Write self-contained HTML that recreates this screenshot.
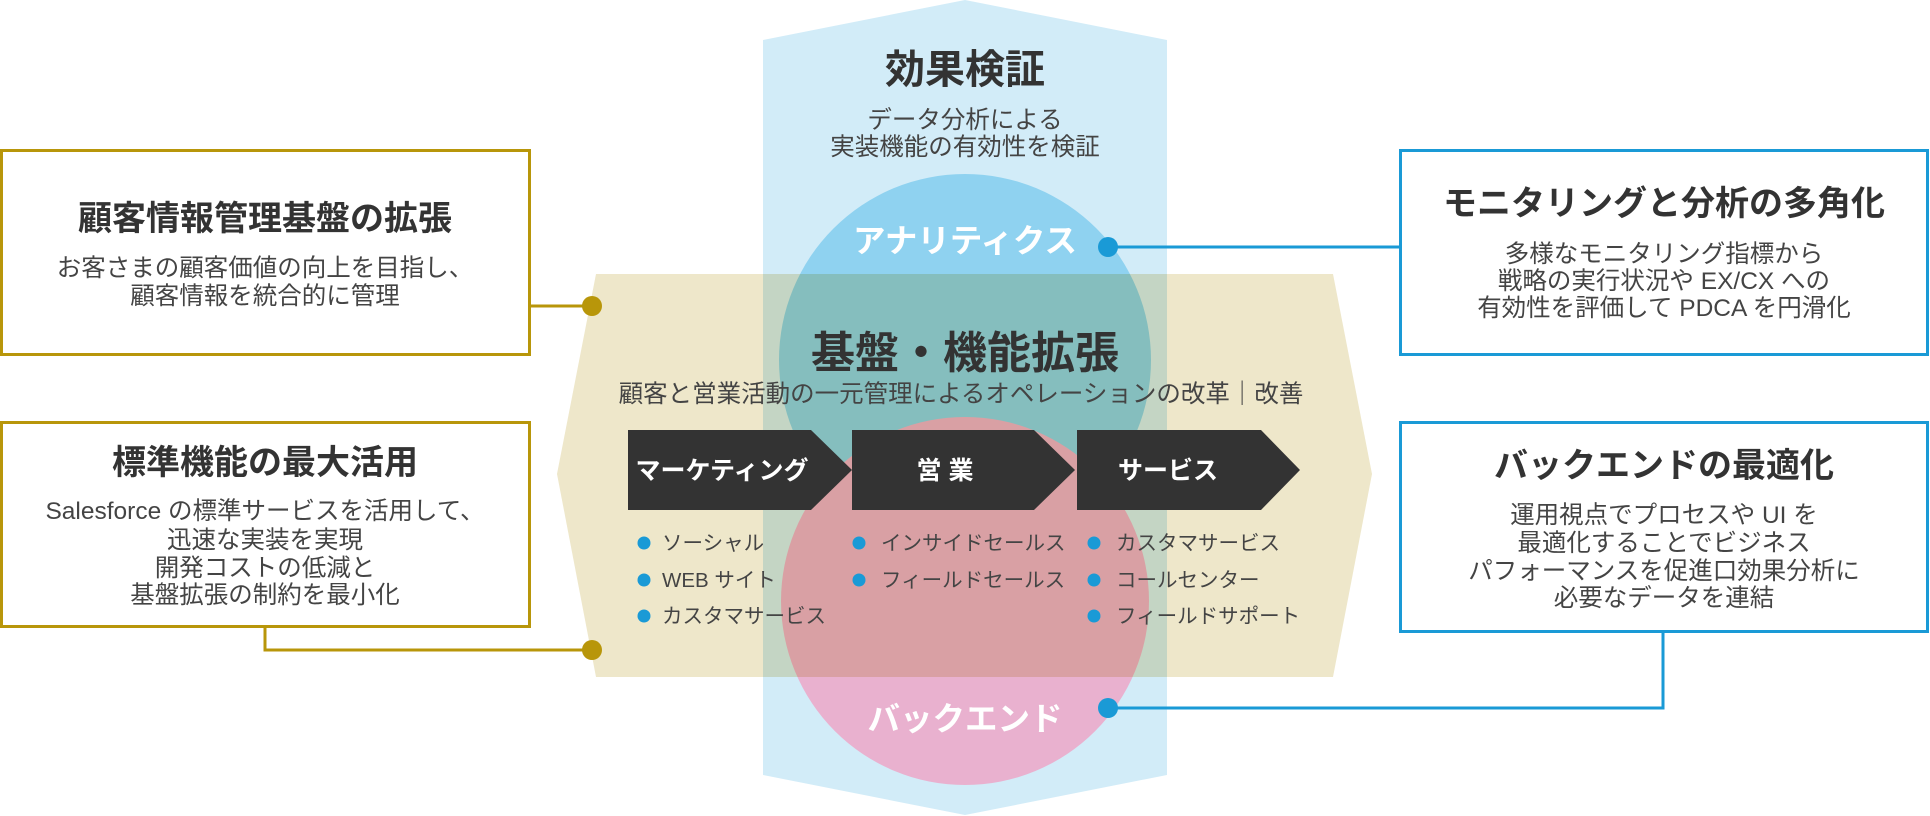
<!DOCTYPE html>
<html><head><meta charset="utf-8"><style>
html,body{margin:0;padding:0;background:#fff;}
svg{display:block;}
text{font-family:"Liberation Sans","Noto Sans CJK JP",sans-serif;fill:#333;}
.t{font-weight:bold;font-size:34px;}
.s{font-size:24.5px;fill:#444;}
.w{fill:#fff;font-weight:bold;font-size:32.5px;}
.c{fill:#fff;font-weight:bold;font-size:25px;}
.b{font-size:20.5px;fill:#444;}
</style></head><body>
<svg width="1930" height="816" viewBox="0 0 1930 816" xmlns="http://www.w3.org/2000/svg">
<polygon points="763,40 965,0 1167,40 1167,775 965,815 763,775" fill="#d2ecf8"/>
<circle cx="965" cy="360" r="186" fill="#8fd2f0"/>
<circle cx="965" cy="601" r="184" fill="#e9b1cf"/>
<polygon points="596,274 1333,274 1372,474 1333,677 596,677 557,474" fill="#eee7ca" style="mix-blend-mode:multiply"/>

<g stroke="#b8960a" stroke-width="3" fill="none">
<rect x="1.5" y="150.5" width="528" height="204"/>
<rect x="1.5" y="422.5" width="528" height="204"/>
<polyline points="530,306 592,306"/>
<polyline points="265,627 265,650 592,650"/>
</g>
<circle cx="592" cy="306" r="10" fill="#b8960a"/>
<circle cx="592" cy="650" r="10" fill="#b8960a"/>

<g stroke="#1a9ad6" stroke-width="3" fill="none">
<rect x="1400.5" y="150.5" width="527" height="204"/>
<rect x="1400.5" y="422.5" width="527" height="209"/>
<polyline points="1108,247 1400,247"/>
<polyline points="1108,708 1663,708 1663,632"/>
</g>
<circle cx="1108" cy="247" r="10" fill="#1a9ad6"/>
<circle cx="1108" cy="708" r="10" fill="#1a9ad6"/>

<g text-anchor="middle">
<text class="t" x="265" y="230">顧客情報管理基盤の拡張</text>
<text class="s" x="265" y="276">お客さまの顧客価値の向上を目指し、</text>
<text class="s" x="265" y="304">顧客情報を統合的に管理</text>

<text class="t" x="265" y="474">標準機能の最大活用</text>
<text class="s" x="265" y="519">Salesforce の標準サービスを活用して、</text>
<text class="s" x="265" y="548">迅速な実装を実現</text>
<text class="s" x="265" y="576">開発コストの低減と</text>
<text class="s" x="265" y="603">基盤拡張の制約を最小化</text>

<text class="t" x="1664" y="215">モニタリングと分析の多角化</text>
<text class="s" x="1664" y="262">多様なモニタリング指標から</text>
<text class="s" x="1664" y="289">戦略の実行状況や EX/CX への</text>
<text class="s" x="1664" y="316">有効性を評価して PDCA を円滑化</text>

<text class="t" x="1664" y="477">バックエンドの最適化</text>
<text class="s" x="1664" y="523">運用視点でプロセスや UI を</text>
<text class="s" x="1664" y="551">最適化することでビジネス</text>
<text class="s" x="1664" y="579">パフォーマンスを促進口効果分析に</text>
<text class="s" x="1664" y="606">必要なデータを連結</text>

<text class="t" x="965" y="83" style="font-size:40px">効果検証</text>
<text class="s" x="965" y="128">データ分析による</text>
<text class="s" x="965" y="155">実装機能の有効性を検証</text>
<text class="w" x="965" y="252">アナリティクス</text>
<text class="t" x="965" y="368" style="font-size:44px">基盤・機能拡張</text>
<text class="s" x="961" y="402">顧客と営業活動の一元管理によるオペレーションの改革｜改善</text>
<text class="w" x="965" y="730">バックエンド</text>
</g>

<g fill="#333">
<polygon points="628,430 811,430 852,470 811,510 628,510"/>
<polygon points="852,430 1034,430 1075,470 1034,510 852,510"/>
<polygon points="1077,430 1261,430 1300,470 1261,510 1077,510"/>
</g>
<g text-anchor="middle">
<text class="c" x="722" y="479">マーケティング</text>
<text class="c" x="945" y="479">営 業</text>
<text class="c" x="1168" y="479">サービス</text>
</g>

<g fill="#1a9ad6">
<circle cx="644" cy="543" r="6.5"/><circle cx="644" cy="580" r="6.5"/><circle cx="644" cy="616" r="6.5"/>
<circle cx="859" cy="543" r="6.5"/><circle cx="859" cy="580" r="6.5"/>
<circle cx="1094" cy="543" r="6.5"/><circle cx="1094" cy="580" r="6.5"/><circle cx="1094" cy="616" r="6.5"/>
</g>
<text class="b" x="662" y="550">ソーシャル</text>
<text class="b" x="662" y="587">WEB サイト</text>
<text class="b" x="662" y="623">カスタマサービス</text>
<text class="b" x="881" y="550">インサイドセールス</text>
<text class="b" x="881" y="587">フィールドセールス</text>
<text class="b" x="1116" y="550">カスタマサービス</text>
<text class="b" x="1116" y="587">コールセンター</text>
<text class="b" x="1116" y="623">フィールドサポート</text>
</svg>
</body></html>
